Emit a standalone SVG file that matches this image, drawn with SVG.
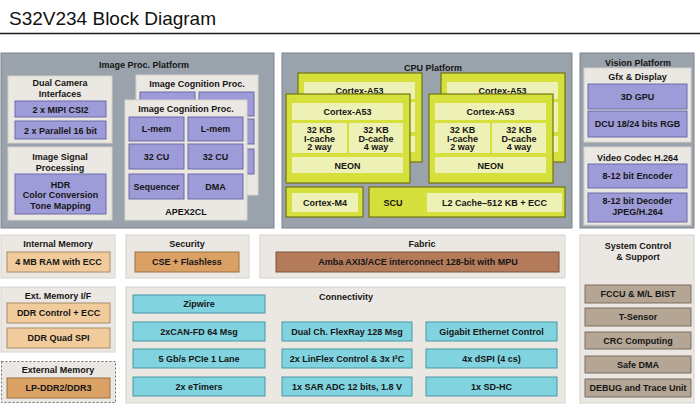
<svg xmlns="http://www.w3.org/2000/svg" width="700" height="413" viewBox="0 0 700 413">
<style>
text{font-family:"Liberation Sans",Arial,Helvetica,sans-serif;font-weight:bold;font-size:9px;fill:#151515;text-anchor:middle}
.ttl{font-size:19px;font-weight:normal;text-anchor:start;fill:#111}
.plat{fill:#9aa2ab;stroke:#7b838b;stroke-width:1}
.panel{fill:#ebe8e3;stroke:#d6d2cc;stroke-width:1}
.pu{fill:#9e9cd8;stroke:#6c6aa6;stroke-width:1}
.ye{fill:#d6e03c;stroke:#6f7412;stroke-width:1.2}
.yl{fill:#eef1b6}
.cy{fill:#80d3df;stroke:#4a97a3;stroke-width:1}
.tan{fill:#f2cb9c;stroke:#a88b6a;stroke-width:1}
.or{fill:#dba064;stroke:#9a7043;stroke-width:1}
.br{fill:#b37b5a;stroke:#7a5239;stroke-width:1}
.gb{fill:#b4a594;stroke:#7c6f62;stroke-width:1}
.dash{fill:#ebe8e3;stroke:#6f6f6f;stroke-width:1;stroke-dasharray:2 2}
</style>
<rect width="700" height="413" fill="#ffffff"/>
<text class="ttl" x="9" y="25">S32V234 Block Diagram</text>
<line x1="0" y1="33.5" x2="700" y2="33.5" stroke="#1a1a1a" stroke-width="1.6"/>

<g id="image-proc-platform">
<rect class="plat" x="1" y="53" width="273" height="175"/>
<text x="144" y="67.5">Image Proc. Platform</text>
</g>
<g id="dual-camera">
<rect class="panel" x="8" y="76" width="104" height="67"/>
<text x="60" y="86">Dual Camera</text>
<text x="60" y="97">Interfaces</text>
<rect class="pu" x="15" y="101" width="91" height="16"/>
<text x="60.5" y="112.5">2 x MIPI CSI2</text>
<rect class="pu" x="15" y="121" width="91" height="18"/>
<text x="60.5" y="133.5">2 x Parallel 16 bit</text>
</g>
<g id="isp">
<rect class="panel" x="8" y="147" width="104" height="73"/>
<text x="60" y="160">Image Signal</text>
<text x="60" y="170.5">Processing</text>
<rect class="pu" x="15" y="174" width="91" height="40"/>
<text x="60.5" y="187.5">HDR</text>
<text x="60.5" y="198">Color Conversion</text>
<text x="60.5" y="208.5">Tone Mapping</text>
</g>
<g id="icp-back" transform="translate(11,-25)">
<rect class="panel" x="125" y="100" width="122" height="120"/>
<text x="186" y="112">Image Cognition Proc.</text>
<rect class="pu" x="129" y="117" width="55" height="24"/>
<rect class="pu" x="188" y="117" width="55" height="24"/>
<rect class="pu" x="129" y="144" width="55" height="25"/>
<rect class="pu" x="188" y="144" width="55" height="25"/>
<rect class="pu" x="129" y="174" width="55" height="25"/>
<rect class="pu" x="188" y="174" width="55" height="25"/>
</g>
<g id="icp-front">
<rect class="panel" x="125" y="100" width="122" height="120"/>
<text x="186" y="112">Image Cognition Proc.</text>
<rect class="pu" x="129" y="117" width="55" height="24"/>
<text x="156.5" y="132">L-mem</text>
<rect class="pu" x="188" y="117" width="55" height="24"/>
<text x="215.5" y="132">L-mem</text>
<rect class="pu" x="129" y="144" width="55" height="25"/>
<text x="156.5" y="159.5">32 CU</text>
<rect class="pu" x="188" y="144" width="55" height="25"/>
<text x="215.5" y="159.5">32 CU</text>
<rect class="pu" x="129" y="174" width="55" height="25"/>
<text x="156.5" y="189.5">Sequencer</text>
<rect class="pu" x="188" y="174" width="55" height="25"/>
<text x="215.5" y="189.5">DMA</text>
<text x="186" y="215">APEX2CL</text>
</g>

<g id="cpu-platform">
<rect class="plat" x="282" y="53" width="290" height="175"/>
<text x="433" y="71">CPU Platform</text>
</g>
<g id="a53-left-back" transform="translate(12,-21)">
<rect class="ye" x="286" y="94" width="124" height="89"/>
<rect class="yl" x="292" y="103" width="111" height="17"/>
<text x="347.5" y="115">Cortex-A53</text>
<rect class="yl" x="292" y="123" width="55" height="30"/>
<rect class="yl" x="349" y="123" width="54" height="30"/>
<rect class="yl" x="292" y="157" width="111" height="16"/>
</g>
<g id="a53-left">
<rect class="ye" x="286" y="94" width="124" height="89"/>
<rect class="yl" x="292" y="103" width="111" height="17"/>
<text x="347.5" y="115">Cortex-A53</text>
<rect class="yl" x="292" y="123" width="55" height="30"/>
<text x="319.5" y="133">32 KB</text><text x="319.5" y="141.5">I-cache</text><text x="319.5" y="150">2 way</text>
<rect class="yl" x="349" y="123" width="54" height="30"/>
<text x="376" y="133">32 KB</text><text x="376" y="141.5">D-cache</text><text x="376" y="150">4 way</text>
<rect class="yl" x="292" y="157" width="111" height="16"/>
<text x="347.5" y="168.5">NEON</text>
</g>
<g id="a53-right-back" transform="translate(155,-21)">
<rect class="ye" x="286" y="94" width="124" height="89"/>
<rect class="yl" x="292" y="103" width="111" height="17"/>
<text x="347.5" y="115">Cortex-A53</text>
<rect class="yl" x="292" y="123" width="55" height="30"/>
<rect class="yl" x="349" y="123" width="54" height="30"/>
<rect class="yl" x="292" y="157" width="111" height="16"/>
</g>
<g id="a53-right" transform="translate(143,0)">
<rect class="ye" x="286" y="94" width="124" height="89"/>
<rect class="yl" x="292" y="103" width="111" height="17"/>
<text x="347.5" y="115">Cortex-A53</text>
<rect class="yl" x="292" y="123" width="55" height="30"/>
<text x="319.5" y="133">32 KB</text><text x="319.5" y="141.5">I-cache</text><text x="319.5" y="150">2 way</text>
<rect class="yl" x="349" y="123" width="54" height="30"/>
<text x="376" y="133">32 KB</text><text x="376" y="141.5">D-cache</text><text x="376" y="150">4 way</text>
<rect class="yl" x="292" y="157" width="111" height="16"/>
<text x="347.5" y="168.5">NEON</text>
</g>
<g id="cortex-m4">
<rect class="ye" x="286" y="187" width="77" height="30"/>
<rect class="yl" x="292" y="193" width="66" height="19"/>
<text x="325" y="205.5">Cortex-M4</text>
</g>
<g id="scu">
<rect class="ye" x="369" y="187" width="196" height="30"/>
<text x="393" y="206">SCU</text>
<rect class="yl" x="427" y="193" width="135" height="19"/>
<text x="494.5" y="205.5">L2 Cache–512 KB + ECC</text>
</g>

<g id="vision-platform">
<rect class="plat" x="580" y="53" width="114" height="175"/>
<text x="638" y="66">Vision Platform</text>
</g>
<g id="gfx">
<rect class="panel" x="584" y="68" width="107" height="74"/>
<text x="637.5" y="80">Gfx &amp; Display</text>
<rect class="pu" x="588" y="84" width="99" height="25"/>
<text x="637.5" y="99.5">3D GPU</text>
<rect class="pu" x="588" y="111" width="99" height="26"/>
<text x="637.5" y="127">DCU 18/24 bits RGB</text>
</g>
<g id="video-codec">
<rect class="panel" x="584" y="147" width="107" height="78"/>
<text x="637.5" y="161">Video Codec H.264</text>
<rect class="pu" x="588" y="164" width="99" height="24"/>
<text x="637.5" y="179">8-12 bit Encoder</text>
<rect class="pu" x="588" y="193" width="99" height="29"/>
<text x="637.5" y="203.5">8-12 bit Decoder</text>
<text x="637.5" y="215">JPEG/H.264</text>
</g>

<g id="internal-memory">
<rect class="panel" x="1" y="235" width="114" height="43"/>
<text x="58" y="246.5">Internal Memory</text>
<rect class="tan" x="7" y="252" width="103" height="20"/>
<text x="58.5" y="265">4 MB RAM with ECC</text>
</g>
<g id="security">
<rect class="panel" x="126" y="235" width="123" height="43"/>
<text x="187" y="246.5">Security</text>
<rect class="or" x="135" y="252" width="104" height="20"/>
<text x="187" y="265">CSE + Flashless</text>
</g>
<g id="fabric">
<rect class="panel" x="260" y="235" width="305" height="43"/>
<text x="422" y="247">Fabric</text>
<rect class="br" x="276" y="252" width="283" height="20"/>
<text x="418" y="265">Amba AXI3/ACE interconnect 128-bit with MPU</text>
</g>
<g id="ext-memory-if">
<rect class="panel" x="1" y="287" width="114" height="65"/>
<text x="58" y="299">Ext. Memory I/F</text>
<rect class="tan" x="7" y="303" width="103" height="20"/>
<text x="58.5" y="316">DDR Control + ECC</text>
<rect class="tan" x="7" y="328" width="103" height="20"/>
<text x="58.5" y="341">DDR Quad SPI</text>
</g>
<g id="external-memory">
<rect class="dash" x="1.5" y="361.5" width="114" height="41"/>
<text x="58" y="372.5">External Memory</text>
<rect class="or" x="7" y="378" width="103" height="20"/>
<text x="58.5" y="391">LP-DDR2/DDR3</text>
</g>
<g id="connectivity">
<rect class="panel" x="126" y="287" width="439" height="116"/>
<text x="346" y="300">Connectivity</text>
<rect class="cy" x="133" y="295" width="132" height="18"/>
<text x="199" y="307">Zipwire</text>
<rect class="cy" x="133" y="322" width="132" height="19"/>
<text x="199" y="334.5">2xCAN-FD 64 Msg</text>
<rect class="cy" x="133" y="349" width="132" height="19"/>
<text x="199" y="361.5">5 Gb/s PCIe 1 Lane</text>
<rect class="cy" x="133" y="377" width="132" height="19"/>
<text x="199" y="389.5">2x eTimers</text>
<rect class="cy" x="282" y="322" width="130" height="19"/>
<text x="347" y="334.5">Dual Ch. FlexRay 128 Msg</text>
<rect class="cy" x="282" y="349" width="130" height="19"/>
<text x="347" y="361.5">2x LinFlex Control &amp; 3x I²C</text>
<rect class="cy" x="282" y="377" width="130" height="19"/>
<text x="347" y="389.5">1x SAR ADC 12 bits, 1.8 V</text>
<rect class="cy" x="426" y="322" width="131" height="19"/>
<text x="491.5" y="334.5">Gigabit Ethernet Control</text>
<rect class="cy" x="426" y="349" width="131" height="19"/>
<text x="491.5" y="361.5">4x dSPI (4 cs)</text>
<rect class="cy" x="426" y="377" width="131" height="19"/>
<text x="491.5" y="389.5">1x SD-HC</text>
</g>
<g id="system-control">
<rect class="panel" x="580" y="235" width="114" height="168"/>
<text x="638" y="249">System Control</text>
<text x="638" y="260">&amp; Support</text>
<rect class="gb" x="585" y="285" width="106" height="18"/>
<text x="638" y="297">FCCU &amp; M/L BIST</text>
<rect class="gb" x="585" y="308" width="106" height="18"/>
<text x="638" y="320">T-Sensor</text>
<rect class="gb" x="585" y="332" width="106" height="17"/>
<text x="638" y="343.5">CRC Computing</text>
<rect class="gb" x="585" y="356" width="106" height="17"/>
<text x="638" y="367.5">Safe DMA</text>
<rect class="gb" x="585" y="379" width="106" height="18"/>
<text x="638" y="391">DEBUG and Trace Unit</text>
</g>
<g id="connectors"></g>
</svg>
